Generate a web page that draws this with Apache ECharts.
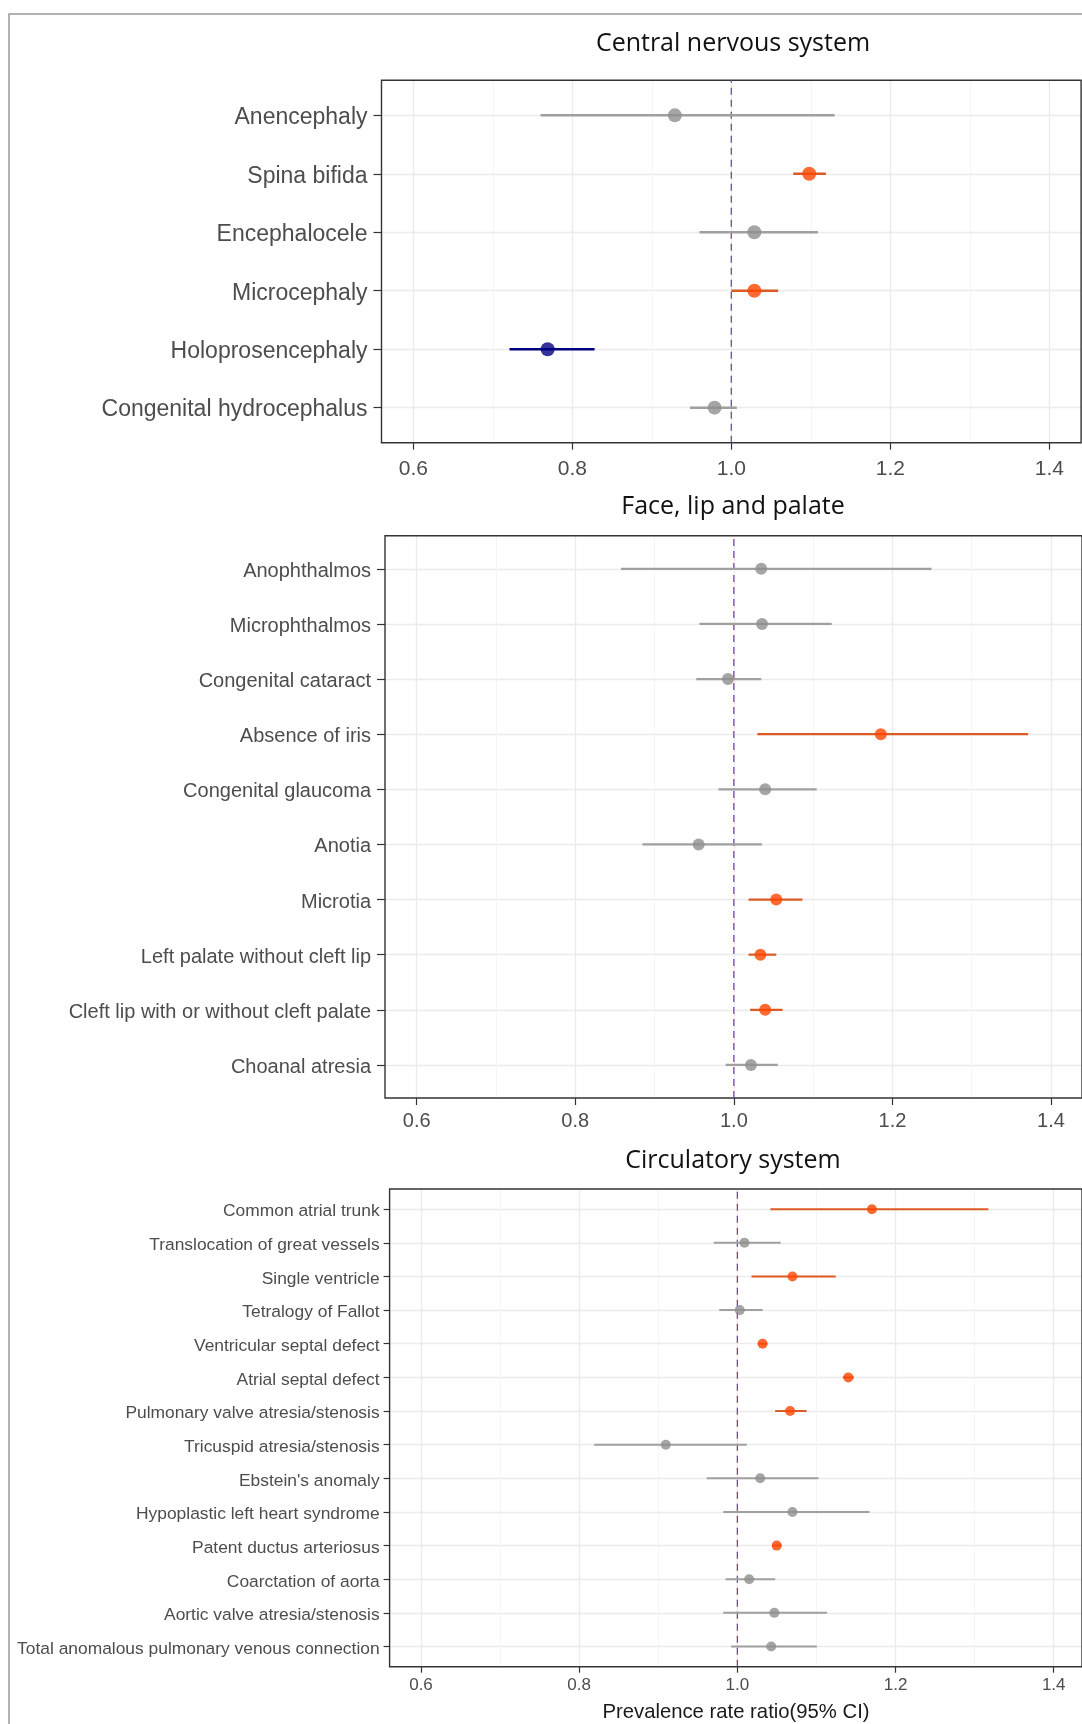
<!DOCTYPE html>
<html><head><meta charset="utf-8">
<script src="https://cdn.jsdelivr.net/npm/echarts@6/dist/echarts.min.js"></script>
<style>html,body{margin:0;padding:0;background:#fff}#c{width:1082px;height:1724px}</style>
</head><body><div id="c"></div><script>
// ---------- data ----------
const panelTitles = ['Central nervous system', 'Face, lip and palate', 'Circulatory system'];
const xTickValues = [0.6, 0.8, 1.0, 1.2, 1.4];
const xRange = [0.56, 1.44];
const refValue = 1.0;
const xAxisTitle = 'Prevalence rate ratio(95% CI)';

const cnsNames = ['Anencephaly','Spina bifida','Encephalocele','Microcephaly','Holoprosencephaly','Congenital hydrocephalus'];
const cnsEst  = [0.929, 1.098, 1.029, 1.029, 0.769, 0.979];
const cnsLow  = [0.760, 1.078, 0.960, 1.000, 0.721, 0.948];
const cnsHigh = [1.130, 1.119, 1.109, 1.059, 0.828, 1.007];
const cnsSig  = ['ns','up','ns','up','down','ns'];

const faceNames = ['Anophthalmos','Microphthalmos','Congenital cataract','Absence of iris','Congenital glaucoma','Anotia','Microtia','Left palate without cleft lip','Cleft lip with or without cleft palate','Choanal atresia'];
const faceEst  = [1.035, 1.036, 0.993, 1.186, 1.040, 0.956, 1.054, 1.034, 1.040, 1.022];
const faceLow  = [0.858, 0.957, 0.953, 1.030, 0.981, 0.885, 1.019, 1.019, 1.021, 0.990];
const faceHigh = [1.250, 1.124, 1.035, 1.372, 1.105, 1.036, 1.087, 1.054, 1.062, 1.056];
const faceSig  = ['ns','ns','ns','up','ns','ns','up','up','up','ns'];

const circNames = ['Common atrial trunk','Translocation of great vessels','Single ventricle','Tetralogy of Fallot','Ventricular septal defect','Atrial septal defect','Pulmonary valve atresia/stenosis','Tricuspid atresia/stenosis',"Ebstein's anomaly",'Hypoplastic left heart syndrome','Patent ductus arteriosus','Coarctation of aorta','Aortic valve atresia/stenosis','Total anomalous pulmonary venous connection'];
const circEst  = [1.173, 1.011, 1.072, 1.005, 1.034, 1.143, 1.069, 0.911, 1.031, 1.072, 1.052, 1.017, 1.049, 1.045];
const circLow  = [1.044, 0.972, 1.020, 0.979, 1.028, 1.136, 1.050, 0.820, 0.963, 0.984, 1.046, 0.987, 0.984, 0.994];
const circHigh = [1.321, 1.057, 1.127, 1.034, 1.040, 1.150, 1.090, 1.014, 1.105, 1.170, 1.058, 1.050, 1.116, 1.103];
const circSig  = ['up','ns','up','ns','up','up','up','ns','ns','ns','up','ns','ns','ns'];

// ---------- styling ----------
const pointColor = {ns: '#8f8f8f', up: '#ff4500', down: '#00007f'};
const barColor   = {ns: '#a0a0a0', up: '#dc5a24', down: '#00007f'};
const FONT = '"Liberation Sans", Arial, sans-serif';

const layouts = [
  {boxL: 381.5, boxT: 80.3,  boxB: 442.7,  x06: 413.3, x14: 1049.3, titleY: 44,   lab: 23,   tick: 21, pt: 14, lw: 2.5, yTick: 8, yMargin: 14, xTick: 7, xMargin: 16},
  {boxL: 385.0, boxT: 535.7, boxB: 1098.0, x06: 416.7, x14: 1051.0, titleY: 507,  lab: 20,   tick: 20, pt: 12, lw: 2.2, yTick: 8, yMargin: 14, xTick: 7, xMargin: 13},
  {boxL: 389.6, boxT: 1189,  boxB: 1666.7, x06: 421.0, x14: 1053.7, titleY: 1161, lab: 17.4, tick: 17, pt: 10, lw: 2.0, yTick: 6, yMargin: 10, xTick: 6, xMargin: 10}
];
const panelData = [
  {names: cnsNames,  est: cnsEst,  low: cnsLow,  high: cnsHigh,  sig: cnsSig},
  {names: faceNames, est: faceEst, low: faceLow, high: faceHigh, sig: faceSig},
  {names: circNames, est: circEst, low: circLow, high: circHigh, sig: circSig}
];

const grid = [], xAxis = [], yAxis = [], series = [], graphic = [];
const tickStep = +(xTickValues[1] - xTickValues[0]).toFixed(6);

panelData.forEach((d, p) => {
  const L = layouts[p];
  const n = d.names.length;
  const pxPerUnit = (L.x14 - L.x06) / (xTickValues[xTickValues.length - 1] - xTickValues[0]);
  const boxW = (xRange[1] - xRange[0]) * pxPerUnit;
  const boxH = L.boxB - L.boxT;
  const rowH = boxH / (n - 1 + 1.2);
  const g0 = grid.length;
  // box frame
  grid.push({left: L.boxL, top: L.boxT, width: boxW, height: boxH, show: true, borderColor: '#333333', borderWidth: 1.4, backgroundColor: 'transparent', z: 3});
  xAxis.push({gridIndex: g0, type: 'value', min: xRange[0], max: xRange[1], show: false});
  yAxis.push({gridIndex: g0, type: 'value', min: 0, max: 1, show: false});
  // vertical grid lines + x ticks/labels
  const g1 = grid.length;
  grid.push({left: L.x06, top: L.boxT, width: L.x14 - L.x06, height: boxH, show: false});
  xAxis.push({gridIndex: g1, type: 'value', min: xTickValues[0], max: xTickValues[xTickValues.length - 1], interval: tickStep,
    axisLine: {show: false},
    axisTick: {show: true, length: L.xTick, lineStyle: {color: '#333333', width: 1.2}},
    axisLabel: {show: true, margin: L.xMargin, color: '#4d4d4d', fontFamily: FONT, fontSize: L.tick, formatter: v => v.toFixed(1)},
    splitLine: {show: true, lineStyle: {color: '#ebebeb', width: 1.3}},
    minorTick: {show: false, splitNumber: 2},
    minorSplitLine: {show: true, lineStyle: {color: '#f2f2f2', width: 0.8}}
  });
  yAxis.push({gridIndex: g1, type: 'value', min: 0, max: 1, show: false});
  const x1 = xAxis.length - 1, y1 = yAxis.length - 1;
  // reference dashed line
  series.push({type: 'line', xAxisIndex: x1, yAxisIndex: y1, data: [[refValue, 0], [refValue, 1]], symbol: 'none', silent: true, z: 4,
    lineStyle: {color: '#7a46a6', width: 1.3, type: [7, 5]}});
  // data grid (categories)
  const g2 = grid.length;
  grid.push({left: L.boxL, top: L.boxT + 0.6 * rowH, width: boxW, height: boxH - 1.2 * rowH, show: false});
  xAxis.push({gridIndex: g2, type: 'value', min: xRange[0], max: xRange[1], show: false});
  yAxis.push({gridIndex: g2, type: 'category', data: d.names, inverse: true, boundaryGap: false,
    axisLine: {show: false},
    axisTick: {show: true, length: L.yTick, interval: 0, lineStyle: {color: '#333333', width: 1.2}},
    axisLabel: {show: true, interval: 0, margin: L.yMargin,
      formatter: v => '{t|' + v + '}',
      rich: {t: {color: '#4d4d4d', fontFamily: FONT, fontSize: L.lab, padding: [5, 0, 0, 0]}}},
    splitLine: {show: true, interval: 0, lineStyle: {color: '#ebebeb', width: 1.3}}
  });
  const x2 = xAxis.length - 1, y2 = yAxis.length - 1;
  const sigKeys = ['ns', 'up', 'down'];
  series.push({type: 'custom', xAxisIndex: x2, yAxisIndex: y2, z: 5, silent: true,
    encode: {x: [0, 1], y: 2},
    data: d.names.map((nm, i) => [d.low[i], d.high[i], i, sigKeys.indexOf(d.sig[i])]),
    renderItem: (params, api) => {
      const a = api.coord([api.value(0), api.value(2)]);
      const b = api.coord([api.value(1), api.value(2)]);
      const key = sigKeys[api.value(3)];
      return {type: 'line', shape: {x1: a[0], y1: a[1], x2: b[0], y2: b[1]},
        style: {stroke: barColor[key], lineWidth: L.lw}};
    }
  });
  series.push({type: 'scatter', xAxisIndex: x2, yAxisIndex: y2, z: 6, silent: true, symbol: 'circle', symbolSize: L.pt,
    data: d.names.map((nm, i) => ({value: [d.est[i], i], itemStyle: {color: pointColor[d.sig[i]]}}))
  });
  // panel title
  graphic.push({type: 'text', x: 733, y: L.titleY, silent: true,
    style: {text: panelTitles[p], fill: '#111111', font: '25px "Open Sans", sans-serif', textAlign: 'center', textVerticalAlign: 'middle'}});
});

graphic.push({type: 'text', x: 736, y: 1712, silent: true,
  style: {text: xAxisTitle, fill: '#1a1a1a', font: '20.3px "Liberation Sans", Arial, sans-serif', textAlign: 'center', textVerticalAlign: 'middle'}});
graphic.push({type: 'rect', silent: true, z: 0, shape: {x: 9, y: 14, width: 1300, height: 1900},
  style: {fill: 'none', stroke: '#9a9a9a', lineWidth: 1.5}});

const chart = echarts.init(document.getElementById('c'), null, {renderer: 'canvas'});
chart.setOption({animation: false, backgroundColor: '#ffffff', grid, xAxis, yAxis, series, graphic});
</script></body></html>
